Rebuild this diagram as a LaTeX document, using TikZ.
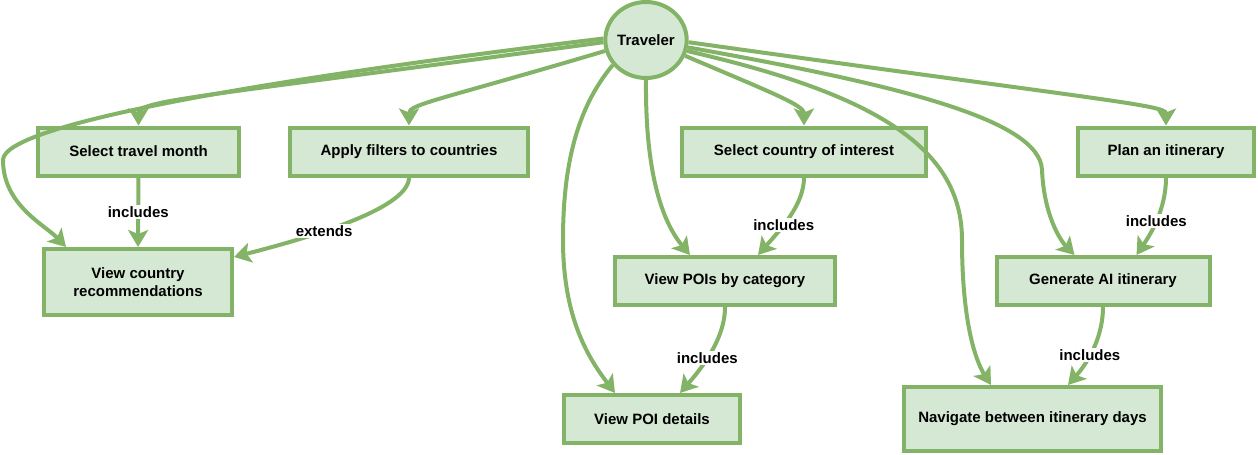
\documentclass[tikz,border=0pt]{standalone}
\usepackage{fontspec}
\setmainfont{Liberation Sans}
\usetikzlibrary{shapes.geometric,arrows.meta}
\definecolor{ucfill}{HTML}{D5E8D4}
\definecolor{ucline}{HTML}{82B366}

\begin{document}
\begin{tikzpicture}[x=1pt,y=-1pt,
    font=\fontsize{15}{18}\selectfont\bfseries,
    usecase/.style={draw=ucline,fill=ucfill,line width=4pt,align=center},
    flow/.style={draw=ucline,line width=4pt,-{Stealth[length=17pt,width=20pt,inset=4pt]}},
    lbl/.style={fill=white,inner sep=1.5pt}]
          \useasboundingbox (0,0) rectangle (1258,455);

          \node[usecase,ellipse,minimum width=78pt,minimum height=76pt,inner sep=0pt] (trav) at (646,40) {Traveler};

          \foreach \n/\x/\y/\w/\h/\t in {
              month/138.5/151.5/201/48/{Select travel month},
              filters/409/151.5/238/48/{Apply filters to countries},
              country/804/151.5/244/48/{Select country of interest},
              plan/1166/151.5/176/48/{Plan an itinerary},
              recs/138/282/188/66/{View country\\recommendations},
              pois/725/281/220/48/{View POIs by category},
              genai/1103/281/213/48/{Generate AI itinerary},
              details/652/419/176/48/{View POI details},
              nav/1032.5/419/257/64/{Navigate between itinerary days}} {
            \node[usecase,minimum width=\w pt,minimum height=\h pt] (\n) at (\x,\y) {\t};
          }

          \draw[flow] (trav.183) .. controls (200,97) and (138.5,100) .. (month.north);
          \draw[flow] (trav.178) .. controls (300,75) and (3,122) .. (3,160)
                      .. controls (3,205) and (45,225) .. ([xshift=24pt]recs.north west);
          \draw[flow] (trav.195) .. controls (440,100) and (409,104) .. (filters.north);
          \draw[flow] (trav.south) .. controls (645,180) and (665,225) .. ([xshift=77pt]pois.north west);
          \draw[flow] (trav.217) .. controls (575,110) and (563,170) .. (563,240)
                      .. controls (563,320) and (590,360) .. ([xshift=53pt]details.north west);
          \draw[flow] (trav.338) .. controls (770,92) and (804,105) .. (country.north);
          \draw[flow] (trav.345) .. controls (880,95) and (962,150) .. (962,240)
                      .. controls (962,320) and (975,360) .. ([xshift=89pt]nav.north west);
          \draw[flow] (trav.350) .. controls (900,85) and (1040,120) .. (1042,170)
                      .. controls (1044,215) and (1060,240) .. ([xshift=80pt]genai.north west);
          \draw[flow] (trav.357) .. controls (1100,100) and (1166,105) .. (plan.north);

          \draw[flow] (month.south) -- node[lbl] {includes} (recs.north);
          \draw[flow] (filters.south) .. controls (409,210) and (300,240) .. node[lbl,pos=0.6] {extends} ([yshift=-10pt]recs.north east);
          \draw[flow] (country.south) .. controls (804,205) and (780,230) .. node[lbl,pos=0.6] {includes} ([xshift=-79pt]pois.north east);
          \draw[flow] (plan.south) .. controls (1166,210) and (1150,235) .. node[lbl] {includes} ([xshift=-75pt]genai.north east);
          \draw[flow] (pois.south) .. controls (725,340) and (700,370) .. node[lbl,pos=0.55] {includes} ([xshift=-62pt]details.north east);
          \draw[flow] (genai.south) .. controls (1103,335) and (1090,360) .. node[lbl,pos=0.6] {includes} ([xshift=166pt]nav.north west);
        \end{tikzpicture}
\end{document}
